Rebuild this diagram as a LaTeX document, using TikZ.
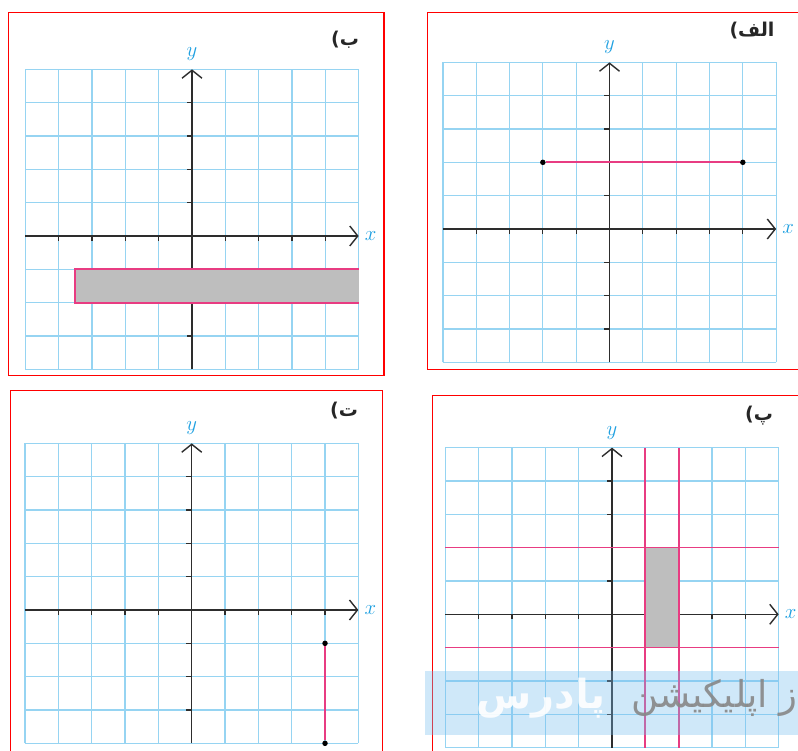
\documentclass[tikz,border=0pt]{standalone}
\usepackage{fontspec}
\usetikzlibrary{arrows.meta}
\TeXXeTstate=1
\newfontfamily\arabicfont[Script=Arabic]{DejaVu Sans}
\definecolor{gridc}{RGB}{150,212,242}
\definecolor{axc}{RGB}{45,45,45}
\definecolor{pinkc}{RGB}{232,60,130}
\definecolor{fillc}{RGB}{190,190,190}
\definecolor{labc}{RGB}{30,160,225}
\definecolor{wmband}{RGB}{120,190,240}
\definecolor{wmgray}{RGB}{135,135,135}
\tikzset{
  gridline/.style={draw=gridc, line width=1.3pt},
  axisline/.style={draw=axc, line width=1.4pt, -{Straight Barb[length=8pt,width=20pt,line width=1.4pt]}},
  tickline/.style={draw=axc, line width=1.3pt},
  pinkline/.style={draw=pinkc, line width=1.7pt},
  grayregion/.style={fill=fillc},
  panelframe/.style={draw=red, line width=1.5pt},
  axlabel/.style={text=labc, font=\fontsize{22}{26}\selectfont, inner sep=0pt},
  dotnode/.style={circle, fill=black, inner sep=0pt, minimum size=5.5pt},
  panellabel/.style={font=\arabicfont\bfseries\fontsize{19}{22}\selectfont, text=black!85, inner sep=0pt},
  wmgraytext/.style={font=\arabicfont\fontsize{37}{44}\selectfont, inner sep=0pt, text=wmgray, text opacity=0.9},
  wmwhitetext/.style={font=\arabicfont\bfseries\fontsize{40}{46}\selectfont, inner sep=0pt, text=white, text opacity=0.9},
}
\newcommand{\coordpanel}[1]{%
  \foreach \gx in {-5,...,5} {\draw[gridline] (\gx,-4) -- (\gx,5);}
  \foreach \gy in {-4,...,5} {\draw[gridline] (-5,\gy) -- (5,\gy);}
  \coordinate (#1xs) at (-5,0);
  \coordinate (#1xe) at (5,0);
  \coordinate (#1ys) at (0,-4);
  \coordinate (#1ye) at (0,5);
  \draw[axisline] (#1xs) -- (#1xe);
  \draw[axisline] (#1ys) -- (#1ye);
  \foreach \t in {-4,-3,-2,-1,1,2,3,4} {\draw[tickline] (\t,0) -- ++(0,-0.14);}
  \foreach \t in {-3,-2,-1,1,2,3,4} {\draw[tickline] (0,\t) -- ++(-0.16,0);}
  \node[axlabel] (#1xl) at (5.36,0) {$x$};
  \node[axlabel] (#1yl) at (0,5.45) {$y$};
}
\begin{document}
\begin{tikzpicture}[x=1pt,y=-1pt]
\useasboundingbox (0,0) rectangle (798,751);
\fill[white] (0,0) rectangle (798,751);
% frames
\draw[panelframe] (8.5,12.7) rectangle (384,375.5);
\draw[panelframe] (427.3,12.7) rectangle (805,369.3);
\draw[panelframe] (10.7,390.7) rectangle (382.3,760);
\draw[panelframe] (432.7,395.7) rectangle (805,760);
% panel labels
\node[panellabel] (lb) at (345,40) {\beginR ب)\endR};
\node[panellabel] (la) at (752,31) {\beginR الف)\endR};
\node[panellabel] (lt) at (344,411) {\beginR ت)\endR};
\node[panellabel] (lp) at (759,416) {\beginR پ)\endR};
% panel B (top left)
\begin{scope}[shift={(192,236)}, x=33.33pt, y=33.33pt]
  \coordpanel{b}
  \coordinate (b1) at (5,-1);
  \coordinate (b2) at (-3.5,-1);
  \coordinate (b3) at (-3.5,-2);
  \coordinate (b4) at (5,-2);
  \fill[grayregion] (b1) -- (b2) -- (b3) -- (b4) -- cycle;
  \draw[pinkline] (b1) -- (b2) -- (b3) -- (b4);
\end{scope}
% panel alef (top right)
\begin{scope}[shift={(609.5,229)}, x=33.33pt, y=33.33pt]
  \coordpanel{a}
  \node[dotnode] (a1) at (-2,2) {};
  \node[dotnode] (a2) at (4,2) {};
  \draw[pinkline] (a1) -- (a2);
\end{scope}
% panel te (bottom left)
\begin{scope}[shift={(191.7,610)}, x=33.33pt, y=33.33pt]
  \coordpanel{t}
  \node[dotnode] (t1) at (4,-1) {};
  \node[dotnode] (t2) at (4,-4) {};
  \draw[pinkline] (t1) -- (t2);
\end{scope}
% panel pe (bottom right)
\begin{scope}[shift={(612,614.3)}, x=33.33pt, y=33.33pt]
  \coordpanel{p}
  \fill[grayregion] (1,-1) rectangle (2,2);
  \coordinate (pv1s) at (1,-4); \coordinate (pv1e) at (1,5);
  \coordinate (pv2s) at (2,-4); \coordinate (pv2e) at (2,5);
  \coordinate (ph1s) at (-5,2); \coordinate (ph1e) at (5,2);
  \coordinate (ph2s) at (-5,-1); \coordinate (ph2e) at (5,-1);
  \draw[pinkline] (pv1s) -- (pv1e);
  \draw[pinkline] (pv2s) -- (pv2e);
  \draw[pinkline] (ph1s) -- (ph1e);
  \draw[pinkline] (ph2s) -- (ph2e);
\end{scope}
% watermark
\fill[wmband, fill opacity=0.35] (425,671) rectangle (805,735);
\node[wmgraytext, anchor=east] (wm1) at (808,698) {\beginR از اپلیکیشن\endR};
\node[wmwhitetext] (wm2) at (541,698) {\beginR پادرس\endR};
\end{tikzpicture}
\end{document}
